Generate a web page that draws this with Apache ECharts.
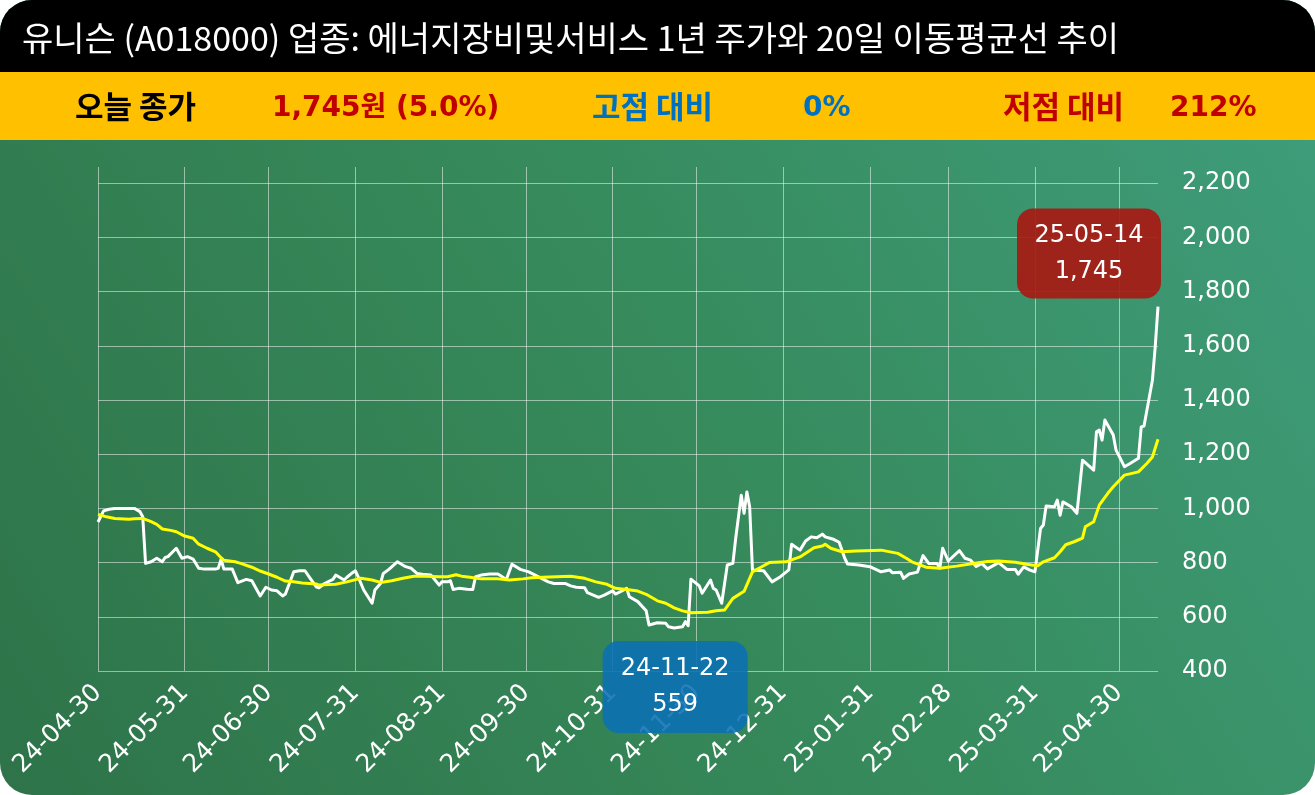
<!DOCTYPE html>
<html><head><meta charset="utf-8">
<script src="https://cdn.jsdelivr.net/npm/echarts@6/dist/echarts.min.js"></script>
<style>html,body{margin:0;padding:0;background:#fff;}#c{width:1315px;height:795px;}</style>
</head><body><div id="c"></div>
<script>
const priceDates = ['2024-04-30','2024-05-02','2024-05-04','2024-05-06','2024-05-13','2024-05-15','2024-05-16','2024-05-17','2024-05-19','2024-05-21','2024-05-23','2024-05-24','2024-05-25','2024-05-28','2024-05-30','2024-06-01','2024-06-03','2024-06-05','2024-06-07','2024-06-11','2024-06-12','2024-06-13','2024-06-14','2024-06-17','2024-06-19','2024-06-22','2024-06-24','2024-06-27','2024-06-29','2024-07-01','2024-07-03','2024-07-05','2024-07-06','2024-07-09','2024-07-11','2024-07-13','2024-07-15','2024-07-17','2024-07-18','2024-07-20','2024-07-23','2024-07-24','2024-07-27','2024-07-28','2024-07-30','2024-07-31','2024-08-01','2024-08-03','2024-08-06','2024-08-07','2024-08-09','2024-08-10','2024-08-12','2024-08-15','2024-08-18','2024-08-20','2024-08-22','2024-08-24','2024-08-27','2024-08-28','2024-08-30','2024-08-31','2024-09-02','2024-09-03','2024-09-04','2024-09-06','2024-09-09','2024-09-11','2024-09-12','2024-09-14','2024-09-17','2024-09-20','2024-09-23','2024-09-25','2024-09-28','2024-10-01','2024-10-04','2024-10-08','2024-10-10','2024-10-14','2024-10-16','2024-10-18','2024-10-21','2024-10-22','2024-10-26','2024-10-28','2024-10-31','2024-11-01','2024-11-04','2024-11-05','2024-11-06','2024-11-09','2024-11-12','2024-11-13','2024-11-16','2024-11-19','2024-11-20','2024-11-22','2024-11-25','2024-11-26','2024-11-27','2024-11-28','2024-12-01','2024-12-02','2024-12-05','2024-12-06','2024-12-07','2024-12-09','2024-12-11','2024-12-13','2024-12-14','2024-12-16','2024-12-17','2024-12-18','2024-12-19','2024-12-20','2024-12-24','2024-12-27','2024-12-30','2025-01-02','2025-01-03','2025-01-06','2025-01-08','2025-01-10','2025-01-12','2025-01-14','2025-01-15','2025-01-17','2025-01-18','2025-01-20','2025-01-22','2025-01-23','2025-01-27','2025-01-31','2025-02-04','2025-02-07','2025-02-08','2025-02-11','2025-02-12','2025-02-14','2025-02-17','2025-02-19','2025-02-21','2025-02-24','2025-02-25','2025-02-26','2025-02-28','2025-03-04','2025-03-06','2025-03-08','2025-03-10','2025-03-12','2025-03-14','2025-03-18','2025-03-21','2025-03-24','2025-03-25','2025-03-27','2025-03-29','2025-03-31','2025-04-02','2025-04-03','2025-04-04','2025-04-07','2025-04-08','2025-04-09','2025-04-10','2025-04-13','2025-04-15','2025-04-17','2025-04-19','2025-04-21','2025-04-22','2025-04-23','2025-04-24','2025-04-25','2025-04-28','2025-04-29','2025-05-02','2025-05-04','2025-05-07','2025-05-08','2025-05-09','2025-05-12','2025-05-13','2025-05-14'];
const priceValues = [950,991,997,1000,1000,988,969,797,803,816,803,819,822,853,816,822,813,779,776,776,779,812,776,776,726,738,733,677,709,699,696,677,684,766,770,770,740,711,707,723,738,754,736,746,763,770,748,699,650,699,723,760,775,803,785,779,760,757,754,742,717,729,729,733,701,705,702,701,748,754,758,758,738,794,775,766,750,729,723,723,714,709,707,689,672,680,696,684,699,705,674,656,622,570,578,576,563,559,563,582,567,739,714,687,736,705,699,650,791,797,889,1049,982,1061,1006,773,770,729,748,773,868,846,880,895,892,905,895,889,886,875,816,795,791,785,766,773,763,764,742,758,765,826,797,797,780,853,806,844,816,809,786,797,777,800,775,775,757,784,773,766,926,939,1009,1006,1031,975,1024,1006,982,1178,1160,1141,1283,1289,1252,1326,1271,1215,1154,1166,1185,1301,1304,1473,1596,1745];
const maDates = ['2024-04-30','2024-05-03','2024-05-06','2024-05-11','2024-05-13','2024-05-16','2024-05-19','2024-05-21','2024-05-23','2024-05-26','2024-05-28','2024-05-31','2024-06-03','2024-06-05','2024-06-08','2024-06-11','2024-06-13','2024-06-14','2024-06-18','2024-06-20','2024-06-24','2024-06-27','2024-06-30','2024-07-03','2024-07-06','2024-07-09','2024-07-12','2024-07-17','2024-07-18','2024-07-24','2024-07-28','2024-08-02','2024-08-06','2024-08-09','2024-08-13','2024-08-17','2024-08-21','2024-08-25','2024-08-30','2024-09-02','2024-09-05','2024-09-07','2024-09-10','2024-09-14','2024-09-20','2024-09-24','2024-09-29','2024-10-02','2024-10-06','2024-10-16','2024-10-21','2024-10-25','2024-10-29','2024-11-01','2024-11-05','2024-11-09','2024-11-12','2024-11-16','2024-11-19','2024-11-22','2024-11-25','2024-11-28','2024-12-04','2024-12-07','2024-12-10','2024-12-13','2024-12-17','2024-12-20','2024-12-23','2024-12-26','2025-01-01','2025-01-06','2025-01-11','2025-01-14','2025-01-15','2025-01-17','2025-01-21','2025-01-26','2025-02-04','2025-02-10','2025-02-13','2025-02-15','2025-02-20','2025-02-25','2025-03-03','2025-03-09','2025-03-14','2025-03-18','2025-03-24','2025-03-28','2025-04-01','2025-04-03','2025-04-07','2025-04-09','2025-04-11','2025-04-14','2025-04-17','2025-04-18','2025-04-21','2025-04-23','2025-04-26','2025-04-28','2025-05-02','2025-05-07','2025-05-10','2025-05-12','2025-05-14'];
const maValues = [978,969,963,960,962,963,951,941,924,919,914,898,890,868,853,840,818,809,803,797,783,769,758,746,732,729,725,721,717,720,729,742,736,727,733,742,750,750,748,748,755,750,746,740,740,736,740,744,746,750,742,729,720,705,701,695,683,659,650,633,622,615,617,622,625,668,694,766,783,800,803,821,855,861,868,853,840,843,846,834,816,803,783,779,787,797,804,806,801,794,788,803,818,840,866,877,890,932,951,1012,1055,1080,1123,1135,1166,1190,1255];
const tickDates = ['2024-04-30','2024-05-31','2024-06-30','2024-07-31','2024-08-31','2024-09-30','2024-10-31','2024-11-30','2024-12-31','2025-01-31','2025-02-28','2025-03-31','2025-04-30'];
const yTicks = [400,600,800,1000,1200,1400,1600,1800,2000,2200];
const lowPoint = ['2024-11-22', 559];
const dayChangePct = '5.0%';

function toTs(s){const p=s.split('-');return Date.UTC(+p[0], +p[1]-1, +p[2]);}
function pad(n){return (n<10?'0':'')+n;}
function fmtDate(v){const d=new Date(v);return String(d.getUTCFullYear()).slice(2)+'-'+pad(d.getUTCMonth()+1)+'-'+pad(d.getUTCDate());}
function fmtNum(v){return String(v).replace(/\B(?=(\d{3})+(?!\d))/g, ',');}

const lastDate = priceDates[priceDates.length-1];
const lastValue = priceValues[priceValues.length-1];
const maxValue = Math.max.apply(null, priceValues);
const minValue = Math.min.apply(null, priceValues);
const fromHigh = Math.round((lastValue/maxValue-1)*100);
const fromLow = Math.round((lastValue/minValue-1)*100);

const chart = echarts.init(document.getElementById('c'));
const numFont = '"DejaVu Sans", "Noto Sans CJK KR", sans-serif';
const krFont = '"Noto Sans CJK KR", sans-serif';

const headerY = 106;
const headerItems = [
  {x:75, dy:0, text:'오늘 종가', color:'#000000', font:'bold 31px '+krFont},
  {x:272, dy:3, text:fmtNum(lastValue)+'원 ('+dayChangePct+')', color:'#C00000', font:'bold 28px '+numFont},
  {x:592, dy:0, text:'고점 대비', color:'#0070C0', font:'bold 31px '+krFont},
  {x:803, dy:3, text:fromHigh+'%', color:'#0070C0', font:'bold 28px '+numFont},
  {x:1003, dy:0, text:'저점 대비', color:'#C00000', font:'bold 31px '+krFont},
  {x:1170, dy:3, text:fromLow+'%', color:'#C00000', font:'bold 28px '+numFont}
];

const graphics = [
  {type:'rect', z:-10, silent:true, shape:{x:0,y:0,width:1315,height:795,r:32},
   style:{fill:new echarts.graphic.LinearGradient(0,1,1,0,[{offset:0,color:'#2E7349'},{offset:0.5,color:'#368A5B'},{offset:1,color:'#3F9E7D'}])}},
  {type:'rect', z:-9, silent:true, shape:{x:0,y:0,width:1315,height:72,r:[32,32,0,0]}, style:{fill:'#000000'}},
  {type:'rect', z:-9, silent:true, shape:{x:0,y:72,width:1315,height:68}, style:{fill:'#FFC000'}},
  {type:'text', z:10, x:22, y:38, style:{text:'유니슨 (A018000) 업종: 에너지장비및서비스 1년 주가와 20일 이동평균선 추이', fill:'#ffffff', font:'34px '+krFont, verticalAlign:'middle'}}
];
headerItems.forEach(h => graphics.push({type:'text', z:10, x:h.x, y:headerY+h.dy, style:{text:h.text, fill:h.color, font:h.font, verticalAlign:'middle'}}));

const option = {
  animation:false,
  backgroundColor:'transparent',
  graphic: graphics,
  grid:{left:98, right:157, top:167, bottom:124, containLabel:false},
  xAxis:{
    type:'value', min:toTs(priceDates[0]), max:toTs(lastDate),
    axisLine:{show:false},
    axisTick:{show:false, customValues:tickDates.map(toTs)},
    axisLabel:{customValues:tickDates.map(toTs), formatter:fmtDate, rotate:45, color:'#ffffff', fontSize:25, fontFamily:numFont, margin:18, hideOverlap:false, showMinLabel:true, showMaxLabel:true},
    splitLine:{show:true, lineStyle:{color:'rgba(255,255,255,0.5)', width:1}}
  },
  yAxis:{
    type:'value', position:'right', min:400, max:2260, interval:200,
    axisLine:{show:false},
    axisTick:{show:false, customValues:yTicks},
    axisLabel:{customValues:yTicks, formatter:v=>fmtNum(v), color:'#ffffff', fontSize:24, fontFamily:numFont, margin:24, align:'left'},
    splitLine:{show:true, lineStyle:{color:'rgba(255,255,255,0.5)', width:1}}
  },
  series:[
    {name:'주가', type:'line', z:3, showSymbol:false, symbol:'none',
     data: priceDates.map((d,i)=>[toTs(d), priceValues[i]]),
     lineStyle:{color:'#ffffff', width:3, join:'round'},
     markPoint:{
       symbol:'rect', symbolSize:1, itemStyle:{color:'rgba(0,0,0,0)'},
       data:[
         {coord:[toTs(lastDate),lastValue], label:{show:true, position:'inside', offset:[-69,-53], formatter:fmtDate(toTs(lastDate))+'\n'+fmtNum(lastValue),
           color:'#ffffff', fontSize:24, fontFamily:numFont, lineHeight:36, backgroundColor:'rgba(170,22,17,0.9)', borderRadius:16, width:144, padding:[9,0], align:'center'}},
         {coord:[toTs(lowPoint[0]),lowPoint[1]], label:{show:true, position:'inside', offset:[1,59], formatter:fmtDate(toTs(lowPoint[0]))+'\n'+fmtNum(lowPoint[1]),
           color:'#ffffff', fontSize:24, fontFamily:numFont, lineHeight:36, backgroundColor:'rgba(10,112,180,0.88)', borderRadius:16, width:145, padding:[10,0], align:'center'}}
       ]
     }},
    {name:'20일 이동평균', type:'line', z:4, showSymbol:false, symbol:'none',
     data: maDates.map((d,i)=>[toTs(d), maValues[i]]),
     lineStyle:{color:'#FFFF00', width:3, join:'round'}}
  ]
};
chart.setOption(option);
</script></body></html>
